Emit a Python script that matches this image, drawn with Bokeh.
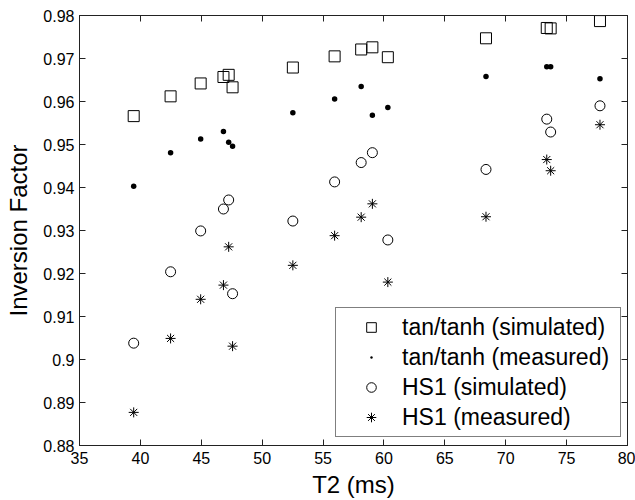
from bokeh.plotting import figure
from bokeh.models import (ColumnDataSource, Legend, LegendItem, LinearAxis,
                          FixedTicker, CustomJSTickFormatter, Range1d,
                          CustomLabelingPolicy)
from bokeh.embed import file_html
from bokeh.resources import INLINE

# T2 values (ms), shared by all series
t2 = [39.45, 42.48, 44.95, 46.82, 47.25, 47.57, 52.52, 55.95, 58.13, 59.05,
      60.32, 68.38, 73.37, 73.69, 77.74]
tan_sim = [0.9566, 0.9612, 0.9642, 0.9657, 0.9662, 0.9633, 0.9679, 0.9705,
           0.9721, 0.9726, 0.9703, 0.9747, 0.9771, 0.9770, 0.9787]
tan_meas = [0.9403, 0.9481, 0.9513, 0.9530, 0.9505, 0.9496, 0.9574, 0.9606,
            0.9635, 0.9568, 0.9586, 0.9658, 0.9681, 0.9681, 0.9653]
hs1_sim = [0.9038, 0.9204, 0.9299, 0.9350, 0.9371, 0.9153, 0.9322, 0.9413,
           0.9458, 0.9481, 0.9278, 0.9442, 0.9559, 0.9529, 0.9590]
hs1_meas = [0.8877, 0.9049, 0.9140, 0.9173, 0.9262, 0.9031, 0.9219, 0.9288,
            0.9331, 0.9362, 0.9180, 0.9332, 0.9465, 0.9439, 0.9546]

labels = ["tan/tanh (simulated)", "tan/tanh (measured)",
          "HS1 (simulated)", "HS1 (measured)"]
x_ticks = [35, 40, 45, 50, 55, 60, 65, 70, 75, 80]
y_ticks = [0.88, 0.89, 0.90, 0.91, 0.92, 0.93, 0.94, 0.95, 0.96, 0.97, 0.98]

FONT = "Liberation Sans"
FRAME = "#222222"

p = figure(frame_width=548, frame_height=430,
           x_range=Range1d(35, 80), y_range=Range1d(0.88, 0.98),
           output_backend="svg", toolbar_location=None, tools="",
           min_border_left=79, min_border_right=8, min_border_top=15,
           min_border_bottom=40)
p.xgrid.visible = False
p.ygrid.visible = False
p.outline_line_color = FRAME
p.background_fill_color = "white"
p.border_fill_color = "white"

yfmt = CustomJSTickFormatter(code="return String(Number(tick.toFixed(2)));")
hide_all = CustomLabelingPolicy(code="for (const i of indices) indices.unset(i); return indices;")

def style_axis(ax, ticks, show_labels=True):
    ax.ticker = FixedTicker(ticks=ticks)
    ax.major_tick_in = 6
    ax.major_tick_out = 0
    ax.minor_tick_in = 0
    ax.minor_tick_out = 0
    ax.axis_line_color = FRAME
    ax.major_tick_line_color = FRAME
    ax.major_label_text_font = FONT
    ax.major_label_text_color = "black"
    if show_labels:
        ax.major_label_text_font_size = "16px"
    else:
        ax.major_label_text_font_size = "0px"
        ax.major_label_standoff = 0
        ax.major_label_policy = hide_all

style_axis(p.xaxis[0], x_ticks)
style_axis(p.yaxis[0], y_ticks)
p.yaxis[0].formatter = yfmt
p.xaxis[0].major_label_standoff = 6
p.yaxis[0].major_label_standoff = 5
p.xaxis.axis_label = "T2 (ms)"
p.yaxis.axis_label = "Inversion Factor"
for ax in (p.xaxis[0], p.yaxis[0]):
    ax.axis_label_text_font = FONT
    ax.axis_label_text_font_size = "24px"
    ax.axis_label_text_font_style = "normal"
    ax.axis_label_text_color = "black"
p.xaxis[0].axis_label_standoff = 4
p.yaxis[0].axis_label_standoff = 8

top = LinearAxis()
style_axis(top, x_ticks, show_labels=False)
p.add_layout(top, "above")
right = LinearAxis()
style_axis(right, y_ticks, show_labels=False)
p.add_layout(right, "right")

src = ColumnDataSource(dict(t2=t2, tan_sim=tan_sim, tan_meas=tan_meas,
                            hs1_sim=hs1_sim, hs1_meas=hs1_meas))

r1 = p.scatter("t2", "tan_sim", source=src, marker="square", size=11,
               fill_color=None, line_color="black", line_width=1)
r2 = p.scatter("t2", "tan_meas", source=src, marker="dot", size=22,
               line_color="black", fill_color="black")
r3 = p.scatter("t2", "hs1_sim", source=src, marker="circle", size=10,
               fill_color=None, line_color="black", line_width=1)
r4 = p.scatter("t2", "hs1_meas", source=src, marker="asterisk", size=10,
               line_color="black", line_width=1)

legend = Legend(items=[LegendItem(label=labels[0], renderers=[r1]),
                       LegendItem(label=labels[1], renderers=[r2]),
                       LegendItem(label=labels[2], renderers=[r3]),
                       LegendItem(label=labels[3], renderers=[r4])],
                location=(256, 8), label_text_font=FONT, label_text_font_size="23px",
                label_text_color="black", label_height=30, glyph_height=24,
                glyph_width=62, label_standoff=0, label_width=214, spacing=0,
                padding=4, margin=0, border_line_color="black", border_line_width=1,
                background_fill_color="white", background_fill_alpha=1.0)
p.add_layout(legend)

open("out.html", "w").write(file_html(p, INLINE))
